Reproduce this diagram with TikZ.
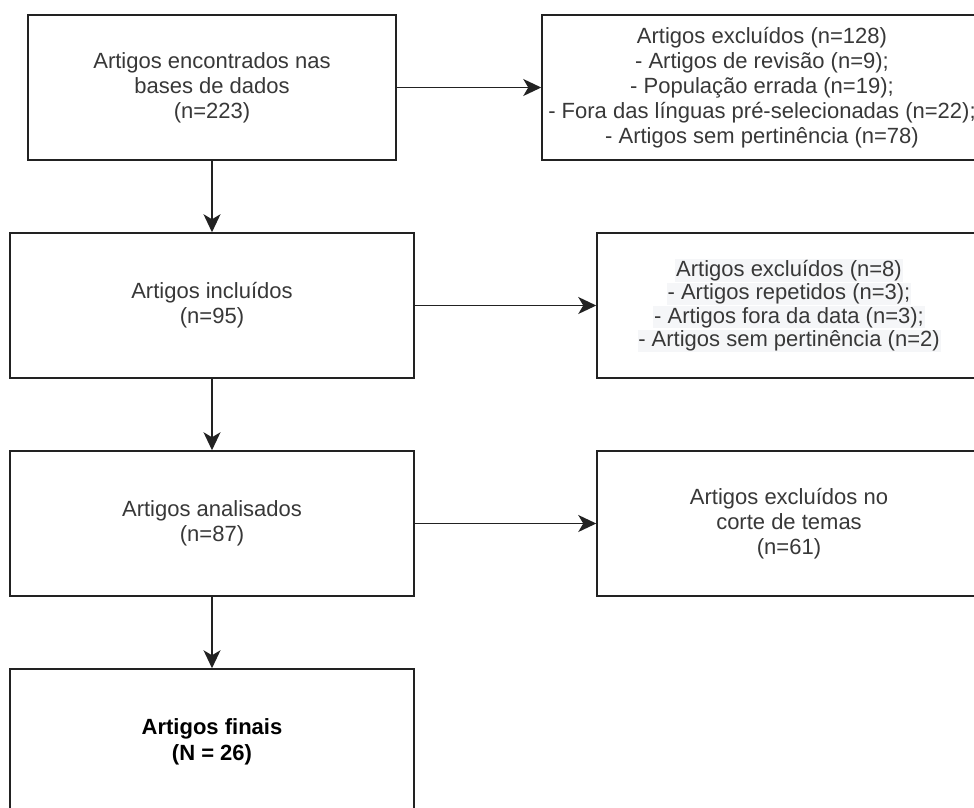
\documentclass[tikz,border=0pt]{standalone}
\usepackage{fontspec}
\setmainfont{Liberation Sans}
\usetikzlibrary{arrows.meta}
\definecolor{txt}{HTML}{383838}
\definecolor{edge}{HTML}{222222}
\definecolor{hlgray}{HTML}{F5F6F8}
\newcommand\hlline[1]{{\setlength{\fboxsep}{0.8pt}\colorbox{hlgray}{#1}}}
\tikzset{
  box/.style={draw=edge, line width=1.5pt, fill=white, rectangle, align=center,
    minimum height=145pt, inner sep=0pt, text=txt,
    font=\fontsize{22}{25}\selectfont},
  conn/.style={draw=edge, line width=1.5pt,
    -{Stealth[length=18pt,width=17pt,inset=5pt]}}
}
\begin{document}
\begin{tikzpicture}[x=1pt,y=-1pt]
\useasboundingbox (0,0) rectangle (974,807);
\clip (0,0) rectangle (974,807);
\node[box, minimum width=368pt] (b1) at (212,87.5) {Artigos encontrados nas\\bases de dados\\(n=223)};
\node[box, minimum width=440pt] (r1) at (762,87.5) {Artigos excluídos (n=128)\\- Artigos de revisão (n=9);\\- População errada (n=19);\\- Fora das línguas pré-selecionadas (n=22);\\- Artigos sem pertinência (n=78)};
\node[box, minimum width=404pt] (b2) at (212,305.5) {Artigos incluídos\\(n=95)};
\node[box, minimum width=384pt] (r2) at (789,305.5) {\hlline{Artigos excluídos (n=8)}\\[-1.6pt]\hlline{- Artigos repetidos (n=3);}\\[-1.6pt]\hlline{- Artigos fora da data (n=3);}\\[-1.6pt]\hlline{- Artigos sem pertinência (n=2)}};
\node[box, minimum width=404pt] (b3) at (212,523.5) {Artigos analisados\\(n=87)};
\node[box, minimum width=384pt] (r3) at (789,523.5) {Artigos excluídos no\\corte de temas\\(n=61)};
\node[box, minimum width=404pt, text=black, font=\fontsize{22}{26}\selectfont\bfseries] (b4) at (212,741.5) {Artigos finais\\(N = 26)};
\draw[conn] (b1.east) -- (r1.west);
\draw[conn] (b1.south) -- (b2.north);
\draw[conn] (b2.east) -- (r2.west);
\draw[conn] (b2.south) -- (b3.north);
\draw[conn] (b3.east) -- (r3.west);
\draw[conn] (b3.south) -- (b4.north);
\end{tikzpicture}
\end{document}
